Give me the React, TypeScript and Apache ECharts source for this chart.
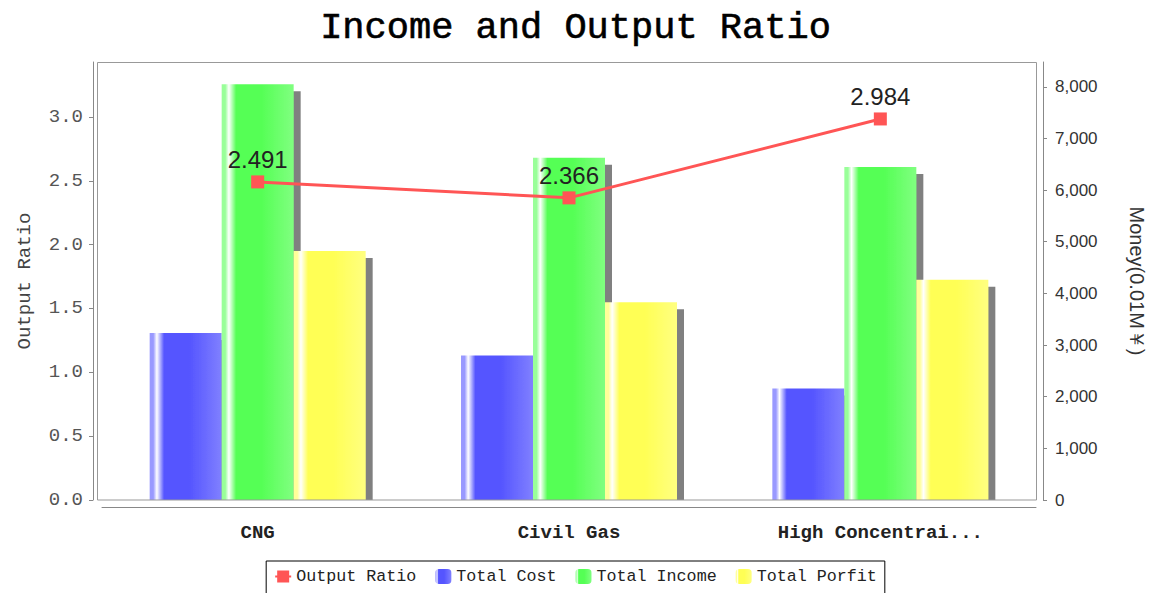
import React, { useEffect, useRef } from 'react';
import * as echarts from 'echarts';

const categories = ['CNG', 'Civil Gas', 'High Concentrai...'];
const totalCost = [3232, 2800, 2160];
const totalIncome = [8051, 6625, 6445];
const totalProfit = [4820, 3830, 4265];
const outputRatio = [2.491, 2.366, 2.984];
const ratioTicks = [0, 0.5, 1, 1.5, 2, 2.5, 3];
const moneyTicks = [0, 1000, 2000, 3000, 4000, 5000, 6000, 7000, 8000];
const seriesNames = ['Output Ratio', 'Total Cost', 'Total Income', 'Total Porfit'];

const grad = (light: string, base: string, right: string) =>
  new echarts.graphic.LinearGradient(0, 0, 1, 0, [
    { offset: 0, color: light },
    { offset: 0.05, color: light },
    { offset: 0.1, color: '#ffffff' },
    { offset: 0.2, color: base },
    { offset: 0.55, color: base },
    { offset: 1, color: right },
  ]);

const barStyle = (light: string, base: string, right: string) => ({
  color: grad(light, base, right),
  shadowColor: '#808080',
  shadowOffsetX: 7,
  shadowOffsetY: 7,
  shadowBlur: 0,
});

export default function App() {
  const ref = useRef<HTMLDivElement>(null);
  useEffect(() => {
    if (!ref.current) return;
    const chart = echarts.init(ref.current, undefined, { renderer: 'svg' });
    const mono = 'Liberation Mono';
    chart.setOption({
      animation: false,
      backgroundColor: '#ffffff',
      title: {
        text: 'Income and Output Ratio',
        left: 'center',
        top: 4,
        textStyle: {
          fontFamily: mono,
          fontSize: 37,
          fontWeight: 'normal',
          color: '#000',
          textBorderColor: '#000',
          textBorderWidth: 0.6,
        },
      },
      graphic: [
        {
          type: 'rect',
          z: 50,
          silent: true,
          shape: { x: 98, y: 500, width: 945, height: 7 },
          style: { fill: '#ffffff', stroke: 'none' },
        },
        {
          type: 'rect',
          z: 51,
          silent: true,
          shape: { x: 97.5, y: 62.5, width: 939, height: 437.5 },
          style: { fill: 'none', stroke: '#999', lineWidth: 1 },
        },
      ],
      legend: {
        data: seriesNames,
        left: 'center',
        top: 561,
        orient: 'horizontal',
        borderColor: '#000',
        borderWidth: 1,
        borderRadius: 0,
        padding: [7, 8, 10, 8],
        itemGap: 19,
        itemWidth: 16,
        itemHeight: 15,
        textStyle: { fontFamily: mono, fontSize: 16.7, color: '#222' },
      },
      grid: { left: 102, right: 115, top: 62, bottom: 93, outerBoundsMode: 'none', containLabel: false },
      xAxis: {
        type: 'category',
        data: categories,
        offset: 7,
        z: 60,
        axisLine: { onZero: false, lineStyle: { color: '#888', width: 1 } },
        axisTick: { alignWithLabel: true, length: 4, lineStyle: { color: '#888' } },
        axisLabel: { fontFamily: mono, fontSize: 19, fontWeight: 'bold', color: '#222', margin: 16 },
        splitLine: { show: false },
      },
      yAxis: [
        {
          type: 'value',
          position: 'left',
          min: 0,
          max: 3.43,
          offset: 9,
          name: 'Output Ratio',
          nameLocation: 'middle',
          nameRotate: 90,
          nameGap: 59,
          nameTextStyle: { fontFamily: mono, fontSize: 19, color: '#444' },
          axisLine: { show: true, onZero: false, lineStyle: { color: '#888' } },
          axisTick: { show: true, length: 4, lineStyle: { color: '#888' }, customValues: ratioTicks },
          axisLabel: {
            fontFamily: mono,
            fontSize: 19,
            color: '#555',
            margin: 10,
            customValues: ratioTicks,
            formatter: (v: number) => v.toFixed(1),
          },
          splitLine: { show: false },
        },
        {
          type: 'value',
          position: 'right',
          min: 0,
          max: 8480,
          offset: 7,
          name: 'Money(0.01M￥)',
          nameLocation: 'middle',
          nameRotate: -90,
          nameGap: 84,
          nameTextStyle: { fontFamily: 'Liberation Sans', fontSize: 20, color: '#333' },
          axisLine: { show: true, onZero: false, lineStyle: { color: '#888' } },
          axisTick: { show: true, length: 4, lineStyle: { color: '#888' }, customValues: moneyTicks },
          axisLabel: {
            fontFamily: 'Liberation Sans',
            fontSize: 17,
            color: '#333',
            margin: 12,
            customValues: moneyTicks,
            formatter: (v: number) => v.toLocaleString('en-US'),
          },
          splitLine: { show: false },
        },
      ],
      series: [
        {
          name: 'Total Cost',
          type: 'bar',
          yAxisIndex: 1,
          data: totalCost,
          barWidth: 72,
          barGap: '0%',
          itemStyle: barStyle('#9999ff', '#5555ff', '#8080ff'),
        },
        {
          name: 'Total Income',
          type: 'bar',
          yAxisIndex: 1,
          data: totalIncome,
          barWidth: 72,
          barGap: '0%',
          itemStyle: barStyle('#99ff99', '#55ff55', '#80ff80'),
        },
        {
          name: 'Total Porfit',
          type: 'bar',
          yAxisIndex: 1,
          data: totalProfit,
          barWidth: 72,
          barGap: '0%',
          itemStyle: barStyle('#ffff99', '#ffff55', '#ffff80'),
        },
        {
          name: 'Output Ratio',
          type: 'line',
          yAxisIndex: 0,
          data: outputRatio,
          z: 5,
          symbol: 'rect',
          symbolSize: 13,
          itemStyle: { color: '#ff5555' },
          lineStyle: { color: '#ff5555', width: 3 },
          label: {
            show: true,
            position: 'top',
            distance: 4,
            fontFamily: 'Liberation Sans',
            fontSize: 24,
            color: '#222',
            formatter: (p: any) => String(p.value),
          },
        },
      ],
    });
    return () => chart.dispose();
  }, []);
  return (
    <div
      ref={ref}
      style={{ position: 'fixed', left: 0, top: 0, width: 1151, height: 593, background: '#fff' }}
    />
  );
}
